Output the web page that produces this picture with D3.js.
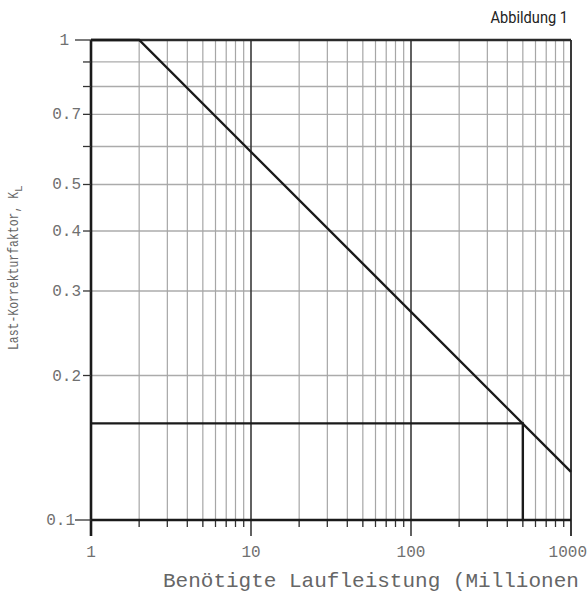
<!DOCTYPE html>
<html><head><meta charset="utf-8">
<script src="https://cdn.jsdelivr.net/npm/d3@7/dist/d3.min.js"></script>
<style>body{margin:0;background:#fff}svg{display:block}</style>
</head><body><svg id="c" width="588" height="594"></svg>
<script>
// Data
const xTicks = [1, 10, 100, 1000];
const xTickLabels = ["1", "10", "100", "1000"];
const yTicks = [0.1, 0.2, 0.3, 0.4, 0.5, 0.6, 0.7, 0.8, 0.9, 1];
const yTickLabels = ["0.1", "0.2", "0.3", "0.4", "0.5", "", "0.7", "", "", "1"];
const curveX = [1, 2, 1000];
const curveY = [1, 1, 0.126];
const refX = [1, 500, 500];
const refY = [0.159, 0.159, 0.1];
const title = "Abbildung 1";
const xLabel = "Benötigte Laufleistung (Millionen";
const yLabel = "Last-Korrekturfaktor, K";
const yLabelSub = "L";

const svg = d3.select("#c");
const x = d3.scaleLog().domain([1, 1000]).range([91, 571]);
const y = d3.scaleLog().domain([0.1, 1]).range([520, 40]);

const minorX = [];
for (let d = 1; d < 1000; d *= 10) for (let k = 2; k <= 9; k++) minorX.push(d * k);

const mono = "'Liberation Mono', 'DejaVu Sans Mono', monospace";

// horizontal grid
svg.append("g").selectAll("line").data(yTicks.filter(v => v > 0.1 && v < 1)).join("line")
  .attr("x1", x(1)).attr("x2", x(1000))
  .attr("y1", d => y(d)).attr("y2", d => y(d))
  .attr("stroke", "#ababab").attr("stroke-width", 1.3);

// vertical minor grid
svg.append("g").selectAll("line").data(minorX).join("line")
  .attr("x1", d => x(d)).attr("x2", d => x(d))
  .attr("y1", y(1)).attr("y2", y(0.1) + 7)
  .attr("stroke", "#a6a6a6").attr("stroke-width", 1.2);
// minor tick marks below axis (dark)
svg.append("g").selectAll("line").data(minorX).join("line")
  .attr("x1", d => x(d)).attr("x2", d => x(d))
  .attr("y1", y(0.1)).attr("y2", y(0.1) + 7)
  .attr("stroke", "#333").attr("stroke-width", 1.2);

// vertical major grid
svg.append("g").selectAll("line").data(xTicks).join("line")
  .attr("x1", d => x(d)).attr("x2", d => x(d))
  .attr("y1", y(1)).attr("y2", y(0.1) + 16)
  .attr("stroke", d => (d === 1) ? "#1a1a1a" : "#3a3a3a")
  .attr("stroke-width", d => (d === 1) ? 2.6 : (d === 1000 ? 2 : 1.6));

// y tick marks
svg.append("g").selectAll("line").data(yTicks).join("line")
  .attr("x1", d => (d === 1 || d === 0.1) ? x(1) - 16 : x(1) - 8).attr("x2", x(1))
  .attr("y1", d => y(d)).attr("y2", d => y(d))
  .attr("stroke", "#333").attr("stroke-width", 1.3);

// top and bottom borders
svg.append("line").attr("x1", x(1)).attr("x2", x(1000)).attr("y1", y(1)).attr("y2", y(1))
  .attr("stroke", "#2a2a2a").attr("stroke-width", 2.4);
svg.append("line").attr("x1", x(1)).attr("x2", x(1000)).attr("y1", y(0.1)).attr("y2", y(0.1))
  .attr("stroke", "#1a1a1a").attr("stroke-width", 2.6);

// curves
const line = d3.line().x(d => x(d[0])).y(d => y(d[1]));
svg.append("path").datum(curveX.map((v, i) => [v, curveY[i]])).attr("d", line)
  .attr("fill", "none").attr("stroke", "#1a1a1a").attr("stroke-width", 2.4);
svg.append("path").datum(refX.map((v, i) => [v, refY[i]])).attr("d", line)
  .attr("fill", "none").attr("stroke", "#1a1a1a").attr("stroke-width", 2.4);

// y tick labels
svg.append("g").selectAll("text").data(yTicks.map((v, i) => [v, yTickLabels[i]]).filter(d => d[1])).join("text")
  .attr("x", d => d[0] === 1 ? 69 : (d[0] === 0.1 ? 75 : 81))
  .attr("y", d => y(d[0]) + 5)
  .attr("text-anchor", "end")
  .attr("font-family", mono).attr("font-size", 16).attr("fill", "#707070")
  .text(d => d[1]);

// x tick labels
svg.append("g").selectAll("text").data(xTicks.map((v, i) => [v, xTickLabels[i]])).join("text")
  .attr("x", d => d[0] === 1000 ? 587 : x(d[0])).attr("y", 557)
  .attr("text-anchor", d => d[0] === 1000 ? "end" : "middle")
  .attr("font-family", mono).attr("font-size", 16).attr("fill", "#707070")
  .text(d => d[1]);

// x label
svg.append("text").attr("x", 163).attr("y", 587)
  .attr("font-family", mono).attr("font-size", 21).attr("fill", "#666")
  .text(xLabel);

// y label
const yl = svg.append("text").attr("transform", "translate(18,350) rotate(-90)")
  .attr("font-family", mono).attr("font-size", 14).attr("fill", "#666");
yl.append("tspan").attr("textLength", 158).attr("lengthAdjust", "spacingAndGlyphs").text(yLabel);
yl.append("tspan").attr("dy", 4).attr("font-size", 11).text(yLabelSub);

// title
svg.append("text").attr("x", 568).attr("y", 23).attr("text-anchor", "end")
  .attr("font-family", "Roboto, 'Liberation Sans Narrow', sans-serif").attr("font-size", 17)
  .attr("transform", "translate(568,0) scale(0.86,1) translate(-568,0)")
  .attr("fill", "#222").text(title);
</script>
</body></html>
